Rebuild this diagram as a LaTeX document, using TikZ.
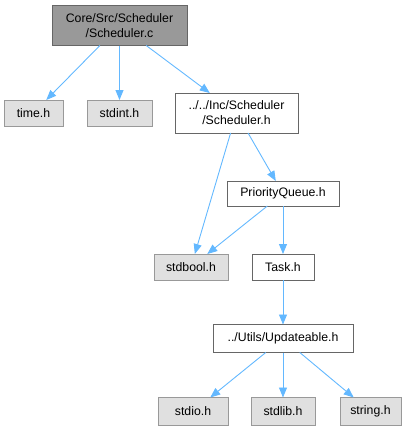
\documentclass[tikz,border=0pt]{standalone}
\usepackage{fontspec}
\setmainfont{Liberation Sans}
\usetikzlibrary{arrows.meta}
\definecolor{edgeblue}{HTML}{63B8FF}
\definecolor{rootfill}{HTML}{999999}
\definecolor{rootdraw}{HTML}{666666}
\definecolor{extfill}{HTML}{E0E0E0}
\definecolor{extdraw}{HTML}{999999}
\definecolor{intdraw}{HTML}{666666}
\begin{document}
\begin{tikzpicture}[x=1pt,y=-1pt,
  box/.style={draw, line width=1pt, inner sep=0pt, outer sep=0pt, align=center,
    font=\fontsize{12.3}{15}\selectfont, text=black},
  rootbox/.style={box, fill=rootfill, draw=rootdraw},
  extbox/.style={box, fill=extfill, draw=extdraw},
  intbox/.style={box, fill=white, draw=intdraw},
  dep/.style={draw=edgeblue, line width=0.9pt, -{Triangle[length=10pt,width=8pt]}, edgeblue}]
\useasboundingbox (0,0) rectangle (409,432);
\node[rootbox, minimum width=135pt, minimum height=40pt] (core) at (119.5,25.5) {Core/Src/Scheduler\\/Scheduler.c};
\node[extbox, minimum width=59pt, minimum height=26pt] (timeh) at (33.5,113) {time.h};
\node[extbox, minimum width=65pt, minimum height=26pt] (stdint) at (119.5,113) {stdint.h};
\node[intbox, minimum width=123pt, minimum height=40pt] (sched) at (236.5,113) {../../Inc/Scheduler\\/Scheduler.h};
\node[intbox, minimum width=112pt, minimum height=25pt] (pq) at (283,193.5) {PriorityQueue.h};
\node[extbox, minimum width=74pt, minimum height=26pt] (stdbool) at (191,267) {stdbool.h};
\node[intbox, minimum width=62pt, minimum height=26pt] (task) at (283,267) {Task.h};
\node[intbox, minimum width=140pt, minimum height=28pt] (upd) at (283,338.5) {../Utils/Updateable.h};
\node[extbox, minimum width=70pt, minimum height=28pt] (stdio) at (193,411.5) {stdio.h};
\node[extbox, minimum width=64pt, minimum height=28pt] (stdlib) at (283,411.5) {stdlib.h};
\node[extbox, minimum width=61pt, minimum height=28pt] (string) at (370.5,411.5) {string.h};
\draw[dep] (core) -- (timeh);
\draw[dep] (core) -- (stdint);
\draw[dep] (core) -- (sched);
\draw[dep] (sched) -- (stdbool);
\draw[dep] (sched) -- (pq);
\draw[dep] (pq) -- (stdbool);
\draw[dep] (pq) -- (task);
\draw[dep] (task) -- (upd);
\draw[dep] (upd) -- (stdio);
\draw[dep] (upd) -- (stdlib);
\draw[dep] (upd) -- (string);
\end{tikzpicture}
\end{document}
